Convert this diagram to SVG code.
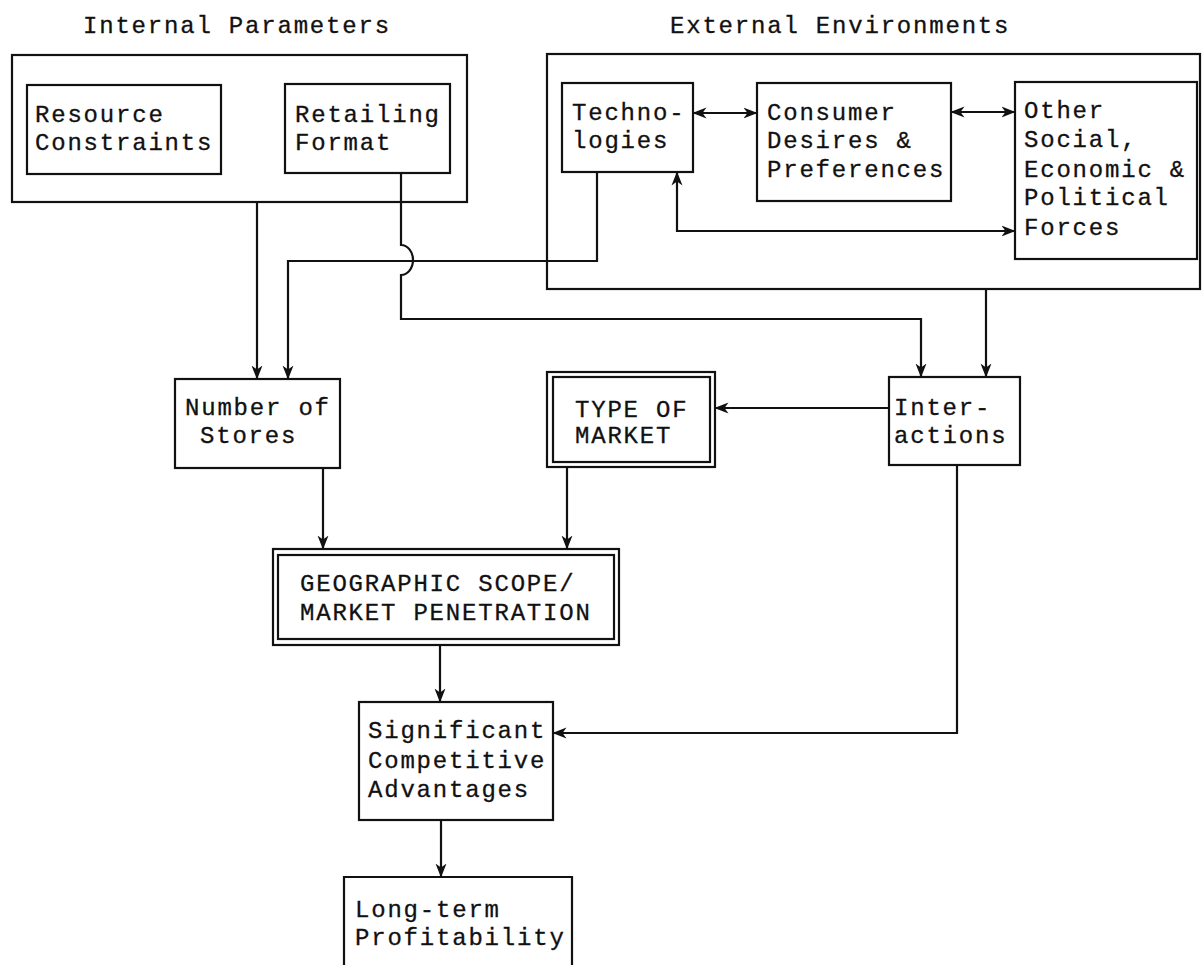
<svg xmlns="http://www.w3.org/2000/svg" width="1202" height="965" viewBox="0 0 1202 965">
<style>
  .t { font-family: "Liberation Mono", "DejaVu Sans Mono", monospace; font-size: 24px; letter-spacing: 1.8px; fill: #111; stroke: #111; stroke-width: 0.3; }
  .box { fill: none; stroke: #111; stroke-width: 2.2; }
  .c { fill: none; stroke: #111; stroke-width: 2.2; }
</style>
<defs>
  <marker id="ah" viewBox="0 0 14 12" refX="13.5" refY="6" markerWidth="14" markerHeight="12" markerUnits="userSpaceOnUse" orient="auto-start-reverse">
    <path d="M0,0.5 L14,6 L0,11.5 L4,6 Z" fill="#111"/>
  </marker>
</defs>
<rect width="1202" height="965" fill="#fff"/>

<g id="title-internal"><text class="t" x="83" y="33">Internal Parameters</text></g>
<g id="title-external"><text class="t" x="670" y="33">External Environments</text></g>

<g id="internal-parameters"><rect class="box" x="12" y="55" width="455" height="147"/></g>
<g id="resource-constraints">
  <rect class="box" x="27" y="85" width="194" height="89"/>
  <text class="t" x="35" y="122">Resource</text>
  <text class="t" x="35" y="150">Constraints</text>
</g>
<g id="retailing-format">
  <rect class="box" x="285" y="84" width="165" height="89"/>
  <text class="t" x="295" y="122">Retailing</text>
  <text class="t" x="295" y="150">Format</text>
</g>

<g id="external-environments"><rect class="box" x="547" y="54" width="653" height="235"/></g>
<g id="technologies">
  <rect class="box" x="562" y="83" width="131" height="89"/>
  <text class="t" x="572" y="120">Techno-</text>
  <text class="t" x="572" y="148">logies</text>
</g>
<g id="consumer-desires">
  <rect class="box" x="757" y="83" width="194" height="118"/>
  <text class="t" x="767" y="120">Consumer</text>
  <text class="t" x="767" y="148">Desires &amp;</text>
  <text class="t" x="767" y="177">Preferences</text>
</g>
<g id="other-forces">
  <rect class="box" x="1015" y="82" width="182" height="177"/>
  <text class="t" x="1024" y="118">Other</text>
  <text class="t" x="1024" y="147">Social,</text>
  <text class="t" x="1024" y="177">Economic &amp;</text>
  <text class="t" x="1024" y="205">Political</text>
  <text class="t" x="1024" y="235">Forces</text>
</g>

<g id="number-of-stores">
  <rect class="box" x="175" y="379" width="165" height="89"/>
  <text class="t" x="185" y="415">Number of</text>
  <text class="t" x="200" y="443">Stores</text>
</g>
<g id="type-of-market">
  <rect class="box" x="547" y="372" width="168" height="95"/>
  <rect class="box" x="553" y="377" width="157" height="85"/>
  <text class="t" x="575" y="417">TYPE OF</text>
  <text class="t" x="575" y="443">MARKET</text>
</g>
<g id="interactions">
  <rect class="box" x="889" y="377" width="131" height="88"/>
  <text class="t" x="894" y="415">Inter-</text>
  <text class="t" x="894" y="443">actions</text>
</g>
<g id="geographic-scope">
  <rect class="box" x="273" y="549" width="346" height="96"/>
  <rect class="box" x="278" y="555" width="336" height="84"/>
  <text class="t" x="300" y="591">GEOGRAPHIC SCOPE/</text>
  <text class="t" x="300" y="620">MARKET PENETRATION</text>
</g>
<g id="competitive-advantages">
  <rect class="box" x="359" y="702" width="194" height="118"/>
  <text class="t" x="368" y="738">Significant</text>
  <text class="t" x="368" y="768">Competitive</text>
  <text class="t" x="368" y="797">Advantages</text>
</g>
<g id="long-term-profitability">
  <path class="box" d="M344,966 V877 H572 V966"/>
  <text class="t" x="355" y="917">Long-term</text>
  <text class="t" x="355" y="945">Profitability</text>
</g>

<g id="connectors">
  <path class="c" d="M257,202 V379" marker-end="url(#ah)"/>
  <path class="c" d="M597,172 V261 H288 V379" marker-end="url(#ah)"/>
  <path class="c" d="M401,173 V245 A12,15 0 0 1 401,275 V319 H921 V377" marker-end="url(#ah)"/>
  <path class="c" d="M986,289 V377" marker-end="url(#ah)"/>
  <path class="c" d="M889,408 H715" marker-end="url(#ah)"/>
  <path class="c" d="M323,468 V549" marker-end="url(#ah)"/>
  <path class="c" d="M567,467 V549" marker-end="url(#ah)"/>
  <path class="c" d="M440,645 V702" marker-end="url(#ah)"/>
  <path class="c" d="M957,465 V733 H553" marker-end="url(#ah)"/>
  <path class="c" d="M441,820 V877" marker-end="url(#ah)"/>
  <path class="c" d="M693,113 H757" marker-start="url(#ah)" marker-end="url(#ah)"/>
  <path class="c" d="M951,112 H1015" marker-start="url(#ah)" marker-end="url(#ah)"/>
  <path class="c" d="M677,172 V231 H1015" marker-start="url(#ah)" marker-end="url(#ah)"/>
</g>
</svg>
